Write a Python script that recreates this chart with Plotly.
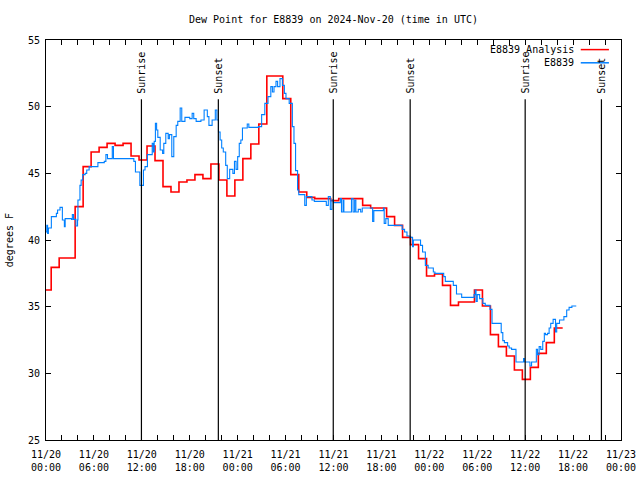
import plotly.graph_objects as go

title_text = "Dew Point for E8839 on 2024-Nov-20 (time in UTC)"
y_label = "degrees F"
analysis_name = "E8839 Analysis"
obs_name = "E8839"

tick_hours = [0, 6, 12, 18, 24, 30, 36, 42, 48, 54, 60, 66, 72]
tick_labels = ["11/20<br>00:00", "11/20<br>06:00", "11/20<br>12:00", "11/20<br>18:00",
               "11/21<br>00:00", "11/21<br>06:00", "11/21<br>12:00", "11/21<br>18:00",
               "11/22<br>00:00", "11/22<br>06:00", "11/22<br>12:00", "11/22<br>18:00",
               "11/23<br>00:00"]

# hourly analysis values (each hour's step starts at hour - 0.35)
analysis_values = [36.25, 37.95, 38.65, 38.65, 42.5, 45.5, 46.6, 46.95, 47.25, 47.1,
                   47.25, 46.3, 46.0, 47.05, 45.95, 44.0, 43.6, 44.35, 44.5, 44.9,
                   44.6, 45.7, 44.5, 43.3, 44.5, 46.1, 47.2, 48.7, 52.3, 52.3,
                   50.6, 44.9, 43.6, 43.2, 43.1, 43.1, 42.95, 43.1, 43.1, 43.1,
                   42.6, 42.4, 42.4, 41.75, 41.1, 40.2, 39.65, 38.6, 37.3, 37.45,
                   36.6, 35.1, 35.35, 35.35, 36.25, 35.05, 32.9, 32.0, 31.3, 30.25,
                   29.55, 30.45, 31.5, 32.3, 33.4]
analysis_end_hour = 64.7

obs_hours = [0.0, 0.1, 0.2, 0.3, 0.67, 1.3, 1.45, 1.75, 2.05, 2.3, 2.4, 2.7, 3.2, 3.3, 3.45,
             3.75, 3.95, 4.0, 4.25, 4.4, 4.6, 4.9, 5.1, 5.4, 6.5, 7.3, 7.5, 7.7, 8.3, 8.45,
             11.0, 11.2, 11.75, 12.2, 12.4, 12.7, 13.3, 13.45, 13.55, 13.7, 13.85, 14.0,
             14.3, 14.6, 14.75, 15.0, 15.3, 15.45, 15.75, 16.0, 16.3, 16.5, 16.8, 17.0,
             17.4, 18.0, 18.3, 18.5, 18.8, 19.4, 19.8, 20.2, 20.4, 20.8, 21.2, 21.4,
             21.6, 21.8, 22.0, 22.2, 22.5, 22.7, 23.0, 23.4, 23.6, 23.8, 24.0, 24.2,
             24.4, 24.6, 25.2, 25.4, 26.6, 27.0, 27.4, 27.8, 28.15, 28.35, 28.55, 28.8,
             29.0, 29.3, 29.6, 29.85, 30.05, 30.45, 30.85, 31.05, 31.25, 31.5, 31.65,
             32.4, 32.6, 33.3, 33.6, 35.1, 35.35, 35.6, 35.8, 36.0, 36.85, 37.0, 37.2,
             37.3, 38.25, 38.45, 38.65, 38.8, 39.1, 39.4, 39.6, 40.9, 41.05, 42.25,
             42.35, 42.55, 42.85, 44.6, 44.9, 45.2, 45.6, 45.9, 46.0, 46.9, 47.15, 47.5,
             47.85, 48.5, 48.7, 49.8, 50.0, 51.0, 51.4, 52.05, 53.6, 53.75, 53.85, 54.0,
             54.3, 54.7, 55.0, 55.6, 55.85, 57.0, 57.2, 57.4, 57.8, 58.0, 58.3, 58.85,
             59.8, 59.9, 60.6, 60.8, 61.4, 61.55, 61.75, 61.95, 62.2, 62.4, 62.55, 62.8,
             63.0, 63.2, 63.5, 63.8, 63.95, 64.3, 64.85, 65.2, 65.5, 65.85, 66.4]
obs_values = [40.6, 41.1, 40.5, 40.9, 41.75, 42.0, 42.25, 42.45, 41.5, 41.0, 41.6, 41.6, 41.55, 41.9, 41.55,
              41.05, 41.5, 43.0, 44.1, 44.5, 44.9, 45.0, 45.25, 45.5, 45.8, 45.9, 46.4, 46.1, 47.0, 46.1,
              45.9, 45.1, 44.1, 45.25, 45.5, 46.4, 47.25, 46.6, 47.4, 48.75, 48.25, 47.7,
              46.75, 46.5, 47.25, 48.0, 47.6, 47.9, 46.25, 47.75, 48.6, 48.9, 49.9, 48.9,
              49.2, 49.1, 49.5, 49.1, 48.9, 49.0, 49.75, 49.25, 48.6, 49.0, 49.75, 49.0,
              48.1, 47.5, 46.9, 46.6, 45.6, 44.6, 45.3, 45.0, 45.9, 45.3, 46.25, 47.25,
              47.5, 48.4, 48.7, 48.45, 48.5, 49.4, 50.25, 50.75, 51.5, 51.1, 51.5, 51.9,
              51.5, 52.1, 51.6, 51.0, 50.6, 50.25, 48.5, 47.25, 45.2, 43.75, 43.4,
              42.6, 43.25, 43.0, 42.9, 42.6, 43.25, 42.3, 43.0, 42.8, 43.1, 42.1, 43.0,
              42.1, 43.1, 42.1, 43.0, 42.1, 42.3, 42.1, 42.4, 41.4, 42.2, 42.4,
              41.25, 41.6, 41.1, 40.8, 40.6, 40.3, 40.2, 39.5, 40.0, 39.6, 39.1, 38.1,
              37.9, 37.6, 37.5, 37.25, 36.9, 36.6, 35.95, 35.7, 35.9, 36.25, 35.4, 35.9,
              35.6, 35.25, 35.1, 34.8, 33.75, 33.05, 32.45, 32.3, 32.05, 31.9, 31.8, 30.85,
              31.1, 30.85, 30.55, 30.85, 31.8, 31.4, 32.0, 31.8, 32.4, 33.0, 32.9, 33.0,
              33.4, 33.75, 34.05, 33.1, 33.75, 34.0, 34.25, 34.75, 34.95, 35.05, 35.05]

sun_labels = ["Sunrise", "Sunset", "Sunrise", "Sunset", "Sunrise", "Sunset"]
sun_hours = [11.95, 21.58, 35.97, 45.6, 60.0, 69.55]

FONT = "DejaVu Sans Mono"
RED = "#ff0000"
BLUE = "#0080ff"

analysis_hours = [max(0.0, k - 0.35) for k in range(len(analysis_values))] + [analysis_end_hour]
analysis_plot = analysis_values + [analysis_values[-1]]

fig = go.Figure()
fig.add_trace(go.Scatter(x=analysis_hours, y=analysis_plot, mode="lines", name=analysis_name,
                         line=dict(color=RED, width=1.6, shape="hv"), showlegend=False))
fig.add_trace(go.Scatter(x=obs_hours, y=obs_values, mode="lines", name=obs_name,
                         line=dict(color=BLUE, width=1.1, shape="hv"), showlegend=False))

for lab, h in zip(sun_labels, sun_hours):
    fig.add_shape(type="line", xref="x", yref="y", x0=h, x1=h, y0=25, y1=50.55,
                  line=dict(color="black", width=1.2))
    fig.add_annotation(x=h, y=50.85, xref="x", yref="y", text=lab, textangle=-90,
                       showarrow=False, xanchor="center", yanchor="bottom",
                       font=dict(family=FONT, size=10, color="black"))

# manual legend (text then line sample, like the original)
for name, col, yp in [(analysis_name, RED, 0.976), (obs_name, BLUE, 0.943)]:
    fig.add_annotation(x=0.922, y=yp, xref="paper", yref="paper", text=name, showarrow=False,
                       xanchor="right", yanchor="middle", font=dict(family=FONT, size=10, color="black"))
    fig.add_shape(type="line", xref="paper", yref="paper", x0=0.930, x1=0.979, y0=yp, y1=yp,
                  line=dict(color=col, width=1.5))

fig.add_annotation(x=-0.064, y=0.5, xref="paper", yref="paper", text=y_label, textangle=-90,
                   showarrow=False, xanchor="center", yanchor="middle",
                   font=dict(family=FONT, size=10, color="black"))

fig.update_layout(
    width=640, height=480,
    margin=dict(l=46, r=19, t=40, b=40, pad=0, autoexpand=False),
    paper_bgcolor="white", plot_bgcolor="white",
    title=dict(text=title_text, x=0.5, xref="paper", y=1 - 19 / 480, yanchor="middle",
               font=dict(family=FONT, size=10, color="black")),
    font=dict(family=FONT, size=10, color="black"),
    showlegend=False,
    hovermode=False,
)
fig.update_xaxes(range=[0, 72], tickmode="array", tickvals=tick_hours, ticktext=tick_labels,
                 automargin=False, ticklabelstandoff=5,
                 ticks="inside", ticklen=5, tickcolor="black", showline=True, linecolor="black",
                 linewidth=1, mirror="allticks", showgrid=False, zeroline=False,
                 minor=dict(tickvals=list(range(0, 73, 2)), ticks="inside", ticklen=5, tickcolor="black"),
                 tickfont=dict(family=FONT, size=10, color="black"))
fig.update_yaxes(range=[25, 55], tickmode="linear", tick0=25, dtick=5, automargin=False,
                 ticklabelstandoff=3,
                 ticks="inside", ticklen=5, tickcolor="black", showline=True, linecolor="black",
                 linewidth=1, mirror="allticks", showgrid=False, zeroline=False,
                 tickfont=dict(family=FONT, size=10, color="black"))

fig.write_html("out.html", config={"displayModeBar": False, "staticPlot": True},
               post_script="document.body.style.margin='0';document.body.style.overflow='hidden';")
